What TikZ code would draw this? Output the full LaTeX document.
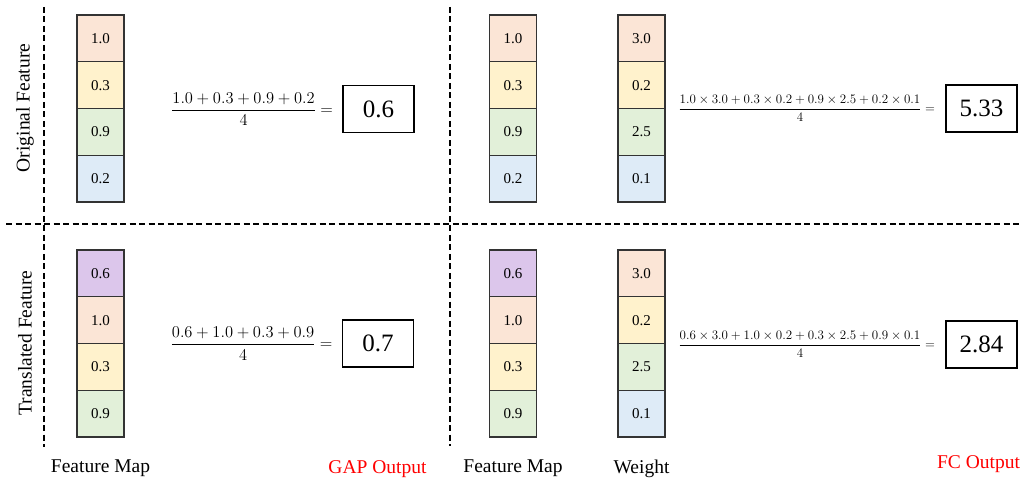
\RequirePackage{fix-cm}
\documentclass[tikz,border=0pt]{standalone}
\usepackage{amsmath}
\usepackage{fontspec}
\setmainfont{Liberation Serif}
\usetikzlibrary{positioning}

\definecolor{cpeach}{HTML}{FBE5D6}
\definecolor{cbutter}{HTML}{FFF2CC}
\definecolor{cmint}{HTML}{E2F0D9}
\definecolor{csky}{HTML}{DEEBF7}
\definecolor{clilac}{HTML}{DCC6EB}

\tikzset{
  cell/.style={draw=black!80, line width=1.2pt, minimum width=47pt,
    minimum height=46.75pt, inner sep=0pt, outer sep=0pt,
    font=\fontsize{15}{18}\selectfont},
  outbox/.style={draw, line width=1.5pt, minimum width=71pt,
    minimum height=47pt, inner sep=0pt, font=\fontsize{25}{28}\selectfont},
  sep/.style={line width=2pt, dash pattern=on 6pt off 3.5pt},
  caption/.style={inner sep=0pt, font=\fontsize{19.5}{22}\selectfont},
  bigfrac/.style={inner sep=0pt, font=\fontsize{16.5}{20}\selectfont},
  smallfrac/.style={inner sep=0pt, font=\fontsize{13}{16}\selectfont},
}

\begin{document}
\begin{tikzpicture}[x=1pt, y=-1pt]
    \useasboundingbox (0,0) rectangle (1025,478);

    % coordinates to be reused
    \coordinate (L1) at (44,7);
    \coordinate (L2) at (44,447);
    \coordinate (M1) at (450,7);
    \coordinate (M2) at (450,446);
    \coordinate (H1) at (6,224);
    \coordinate (H2) at (1022,224);

    % dashed separators
    \draw [sep] (L1) -- (L2);
    \draw [sep] (M1) -- (M2);
    \draw [sep] (H1) -- (H2);

    % GAP, original feature
    \node [cell, fill=cpeach] (ga1) at (100.5,38.4) {1.0};
    \node [cell, fill=cbutter, below=0pt of ga1] (ga2) {0.3};
    \node [cell, fill=cmint, below=0pt of ga2] (ga3) {0.9};
    \node [cell, fill=csky, below=0pt of ga3] (ga4) {0.2};
    \node [outbox] (gapA) at (378.5,109) {0.6};
    \node [bigfrac, left=9pt of gapA] (gfA) {$\dfrac{1.0+0.3+0.9+0.2}{4}=$};

    % GAP, translated feature
    \node [cell, fill=clilac] (gb1) at (100.5,273.4) {0.6};
    \node [cell, fill=cpeach, below=0pt of gb1] (gb2) {1.0};
    \node [cell, fill=cbutter, below=0pt of gb2] (gb3) {0.3};
    \node [cell, fill=cmint, below=0pt of gb3] (gb4) {0.9};
    \node [outbox] (gapB) at (378,343.5) {0.7};
    \node [bigfrac, left=9pt of gapB] (gfB) {$\dfrac{0.6+1.0+0.3+0.9}{4}=$};

    % FC, original feature and weight
    \node [cell, fill=cpeach] (fa1) at (513,38.4) {1.0};
    \node [cell, fill=cbutter, below=0pt of fa1] (fa2) {0.3};
    \node [cell, fill=cmint, below=0pt of fa2] (fa3) {0.9};
    \node [cell, fill=csky, below=0pt of fa3] (fa4) {0.2};
    \node [cell, fill=cpeach] (wa1) at (641.5,38.4) {3.0};
    \node [cell, fill=cbutter, below=0pt of wa1] (wa2) {0.2};
    \node [cell, fill=cmint, below=0pt of wa2] (wa3) {2.5};
    \node [cell, fill=csky, below=0pt of wa3] (wa4) {0.1};
    \node [outbox] (fcA) at (981.5,108.5) {5.33};
    \node [smallfrac, left=10pt of fcA] (ffA)
      {$\dfrac{1.0\times3.0+0.3\times0.2+0.9\times2.5+0.2\times0.1}{4}=$};

    % FC, translated feature and weight
    \node [cell, fill=clilac] (fb1) at (513,273.4) {0.6};
    \node [cell, fill=cpeach, below=0pt of fb1] (fb2) {1.0};
    \node [cell, fill=cbutter, below=0pt of fb2] (fb3) {0.3};
    \node [cell, fill=cmint, below=0pt of fb3] (fb4) {0.9};
    \node [cell, fill=cpeach] (wb1) at (641.5,273.4) {3.0};
    \node [cell, fill=cbutter, below=0pt of wb1] (wb2) {0.2};
    \node [cell, fill=cmint, below=0pt of wb2] (wb3) {2.5};
    \node [cell, fill=csky, below=0pt of wb3] (wb4) {0.1};
    \node [outbox] (fcB) at (981.5,344.5) {2.84};
    \node [smallfrac, left=10pt of fcB] (ffB)
      {$\dfrac{0.6\times3.0+1.0\times0.2+0.3\times2.5+0.9\times0.1}{4}=$};

    % add labels
    \node [caption, rotate=90] (rowA) at (25,108) {Original Feature};
    \node [caption, rotate=90] (rowB) at (25,343) {Translated Feature};
    \node [caption, below=23pt of gb4] (mapL) {Feature Map};
    \node [caption, below=23pt of fb4] (mapR) {Feature Map};
    \node [caption, below=23pt of wb4] (wlab) {Weight};
    \node [caption, red, anchor=base] (gapout) at (377.5,473) {GAP Output};
    \node [caption, red, anchor=base] (fcout) at (978.5,468) {FC Output};
\end{tikzpicture}
\end{document}
